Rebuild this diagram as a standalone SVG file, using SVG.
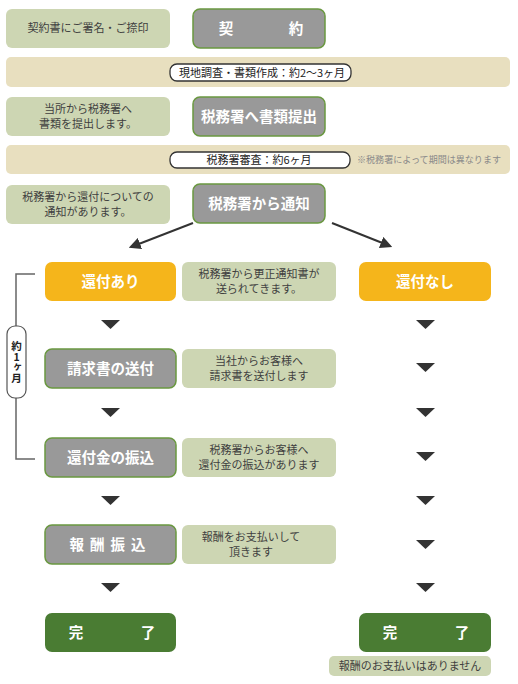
<svg xmlns="http://www.w3.org/2000/svg" width="518" height="684" viewBox="0 0 518 684">
<defs>
<style>
text{font-family:"Noto Sans CJK JP","Noto Sans",sans-serif;}
.note{fill:#CDD6B3;}
.nt{font-size:11px;fill:#3f3f3f;text-anchor:middle;}
.gray{fill:#999999;stroke:#6A9840;stroke-width:1.5;}
.wt{font-size:14.5px;font-weight:bold;fill:#fff;text-anchor:middle;}
.band{fill:#E8DFBF;}
.pill{fill:#fff;stroke:#333;stroke-width:1.3;}
.pt{font-size:11px;fill:#222;}
.orange{fill:#F5B51B;}
.done{fill:#4A7C33;}
.tri{fill:#333;}
.con{stroke:#333;stroke-width:2;fill:none;}
.vt{font-size:10.5px;font-weight:bold;fill:#222;writing-mode:vertical-rl;text-orientation:upright;text-anchor:middle;}
</style>
<marker id="ah" viewBox="0 0 10 10" refX="8" refY="5" markerWidth="6" markerHeight="6" orient="auto" markerUnits="strokeWidth">
<path d="M0,0 L10,5 L0,10 z" fill="#333"/>
</marker>
</defs>

<g id="row1">
<rect class="note" x="6" y="9" width="164" height="39" rx="6"/>
<text class="nt" x="88" y="32">契約書にご署名・ご捺印</text>
<rect class="gray" x="193" y="9" width="132" height="39" rx="7"/>
<text class="wt" x="226" y="34">契</text>
<text class="wt" x="296" y="34">約</text>
</g>

<g id="band1">
<rect class="band" x="6" y="57" width="504" height="30" rx="5"/>
<rect class="pill" x="170" y="64" width="181" height="17" rx="7"/>
<text class="pt" x="262" y="77" text-anchor="middle">現地調査・書類作成：約2〜3ヶ月</text>
</g>

<g id="row2">
<rect class="note" x="6" y="97" width="164" height="39" rx="6"/>
<text class="nt" x="88" y="113">当所から税務署へ</text>
<text class="nt" x="88" y="128">書類を提出します。</text>
<rect class="gray" x="193" y="97" width="132" height="39" rx="7"/>
<text class="wt" x="259" y="122">税務署へ書類提出</text>
</g>

<g id="band2">
<rect class="band" x="6" y="145" width="504" height="29" rx="5"/>
<rect class="pill" x="170" y="152" width="180" height="16" rx="7"/>
<text class="pt" x="259" y="164" text-anchor="middle">税務署審査：約6ヶ月</text>
<text x="357" y="163" font-size="9.5px" fill="#8a8a8a" textLength="144" lengthAdjust="spacingAndGlyphs">※税務署によって期間は異なります</text>
</g>

<g id="row3">
<rect class="note" x="6" y="185" width="164" height="39" rx="6"/>
<text class="nt" x="88" y="201">税務署から還付についての</text>
<text class="nt" x="88" y="216">通知があります。</text>
<rect class="gray" x="193" y="184" width="132" height="39" rx="7"/>
<text class="wt" x="259" y="209">税務署から通知</text>
</g>

<g id="connectors">
<line class="con" x1="193" y1="223" x2="131" y2="247" marker-end="url(#ah)"/>
<line class="con" x1="332" y1="223" x2="390" y2="246" marker-end="url(#ah)"/>
<path d="M35,274 H16 V459 H35" stroke="#666" stroke-width="1.5" fill="none"/>
<polygon class="tri" points="101,320 120,320 110.5,329"/>
<polygon class="tri" points="101,408 120,408 110.5,417"/>
<polygon class="tri" points="101,496 120,496 110.5,505"/>
<polygon class="tri" points="101,583 120,583 110.5,592"/>
<polygon class="tri" points="416,320 435,320 425.5,329"/>
<polygon class="tri" points="416,363 435,363 425.5,372"/>
<polygon class="tri" points="416,408 435,408 425.5,417"/>
<polygon class="tri" points="416,452 435,452 425.5,461"/>
<polygon class="tri" points="416,496 435,496 425.5,505"/>
<polygon class="tri" points="416,540 435,540 425.5,549"/>
<polygon class="tri" points="416,583 435,583 425.5,592"/>
</g>

<g id="period">
<rect x="7" y="326" width="19" height="72" rx="8" fill="#fff" stroke="#555" stroke-width="1.2"/>
<text class="vt" x="16.5" y="362">約1ヶ月</text>
</g>

<g id="refund-yes">
<rect class="orange" x="45" y="262" width="131" height="39" rx="7"/>
<text class="wt" x="110.5" y="287">還付あり</text>
</g>
<g id="note-a">
<rect class="note" x="182" y="262" width="154" height="39" rx="6"/>
<text class="nt" x="259" y="278">税務署から更正通知書が</text>
<text class="nt" x="259" y="293">送られてきます。</text>
</g>
<g id="refund-no">
<rect class="orange" x="359" y="262" width="132" height="39" rx="7"/>
<text class="wt" x="425" y="287">還付なし</text>
</g>

<g id="invoice">
<rect class="gray" x="45" y="349" width="131" height="39" rx="7"/>
<text class="wt" x="110.5" y="374">請求書の送付</text>
</g>
<g id="note-b">
<rect class="note" x="182" y="349" width="154" height="39" rx="6"/>
<text class="nt" x="259" y="365">当社からお客様へ</text>
<text class="nt" x="259" y="380">請求書を送付します</text>
</g>

<g id="transfer">
<rect class="gray" x="45" y="438" width="131" height="39" rx="7"/>
<text class="wt" x="110.5" y="463">還付金の振込</text>
</g>
<g id="note-c">
<rect class="note" x="182" y="438" width="154" height="39" rx="6"/>
<text class="nt" x="259" y="454">税務署からお客様へ</text>
<text class="nt" x="259" y="469">還付金の振込があります</text>
</g>

<g id="fee">
<rect class="gray" x="45" y="525" width="131" height="39" rx="7"/>
<text class="wt" x="110.5" y="550" letter-spacing="6">報酬振込</text>
</g>
<g id="note-d">
<rect class="note" x="182" y="525" width="154" height="39" rx="6"/>
<text class="nt" x="251" y="541">報酬をお支払いして</text>
<text class="nt" x="251" y="556">頂きます</text>
</g>

<g id="done-left">
<rect class="done" x="45" y="613" width="131" height="39" rx="7"/>
<text class="wt" x="76" y="638">完</text>
<text class="wt" x="148" y="638">了</text>
</g>
<g id="done-right">
<rect class="done" x="359" y="613" width="132" height="39" rx="7"/>
<text class="wt" x="390" y="638">完</text>
<text class="wt" x="462" y="638">了</text>
</g>
<g id="note-e">
<rect class="note" x="329" y="656" width="162" height="20" rx="5"/>
<text class="nt" x="410" y="670">報酬のお支払いはありません</text>
</g>
</svg>
